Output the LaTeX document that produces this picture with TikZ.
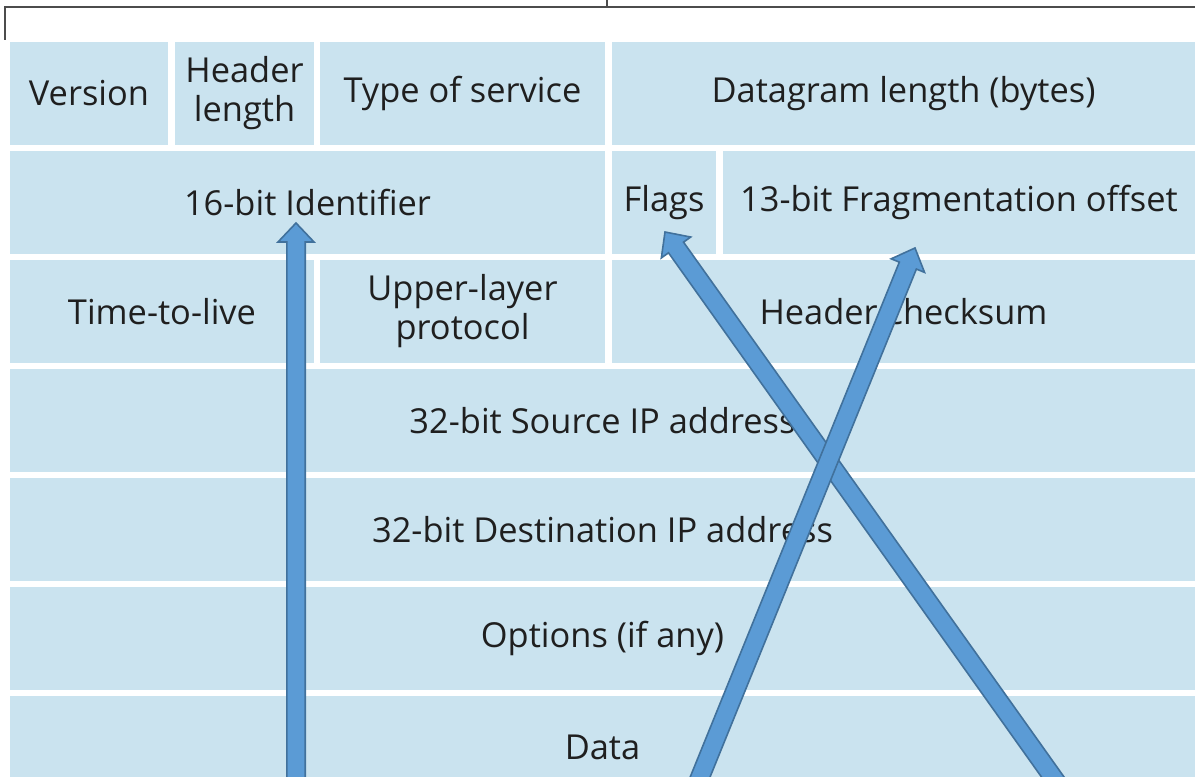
\documentclass[tikz,border=0pt]{standalone}
\usepackage{fontspec}
\setmainfont{Open Sans}
\usetikzlibrary{positioning, calc}

\definecolor{fieldblue}{RGB}{202,227,239}
\definecolor{arrowfill}{RGB}{91,155,213}
\definecolor{arrowedge}{RGB}{65,113,156}

% block arrow from foot (#1) to tip (#2)
\newcommand{\fatarrow}[2]{%
  \coordinate (neck) at ($(#2)!9.5pt!(#1)$);
  \draw[blockArrow] ($(#1)!4.6pt!90:(#2)$) -- ($(neck)!4.6pt!-90:(#1)$)
    -- ($(neck)!9pt!-90:(#1)$) -- (#2) -- ($(neck)!9pt!90:(#1)$)
    -- ($(neck)!4.6pt!90:(#1)$) -- ($(#1)!4.6pt!-90:(#2)$) -- cycle;
}

\begin{document}
\begin{tikzpicture}[
    x=0.5pt, y=0.5pt,
    % Field Style
    field/.style={
        rectangle, fill=fieldblue, inner sep=0pt, outer sep=0pt,
        minimum height=51.5pt, align=center, text=black!88,
        font=\fontsize{17.2}{19.5}\selectfont
    },
    wideField/.style={field, minimum width=592.5pt},
    % Frame Style
    frameLine/.style={draw=black!70, line width=1pt},
    % Arrow Style
    blockArrow/.style={fill=arrowfill, draw=arrowedge, line width=0.8pt, line join=miter}
]
    \useasboundingbox (0,0) rectangle (1195,777);
    \clip (0,0) rectangle (1195,777);

    % --- FRAME ---
    \draw[frameLine] (5,737) -- (5,770) -- (1200,770);
    \draw[frameLine] (607,770) -- (607,780);

    % --- ROW 1 ---
    \node[field, minimum width=79pt, anchor=north west] (ver) at (10,735) {Version};
    \node[field, minimum width=69.5pt, right=3.5pt of ver] (hlen) {Header\\length};
    \node[field, minimum width=142.5pt, right=3pt of hlen] (tos) {Type of service};
    \node[field, minimum width=291.5pt, right=3.5pt of tos] (dlen) {Datagram length (bytes)};

    % --- ROW 2 ---
    \node[field, minimum width=297.5pt, below right=3pt and 0pt of ver.south west] (ident) {16-bit Identifier};
    \node[field, minimum width=52pt, right=3.5pt of ident] (flags) {Flags};
    \node[field, minimum width=236pt, right=3.5pt of flags] (fragoff) {13-bit Fragmentation offset};

    % --- ROW 3 ---
    \node[field, minimum width=152pt, below right=3pt and 0pt of ident.south west] (ttl) {Time-to-live};
    \node[field, minimum width=142.5pt, right=3pt of ttl] (proto) {Upper-layer\\protocol};
    \node[field, minimum width=291.5pt, right=3.5pt of proto] (csum) {Header checksum};

    % --- FULL ROWS ---
    \node[wideField, below right=3pt and 0pt of ttl.south west] (srcip) {32-bit Source IP address};
    \node[wideField, below right=3pt and 0pt of srcip.south west] (dstip) {32-bit Destination IP address};
    \node[wideField, below right=3pt and 0pt of dstip.south west] (opts) {Options (if any)};
    \node[wideField, below right=3pt and 0pt of opts.south west] (data) {Data};

    % --- ARROWS ---
    \coordinate (idtip) at ([xshift=-5.75pt, yshift=15.5pt]ident.south);
    \coordinate (flagtip) at ([xshift=0.5pt, yshift=11pt]flags.south);
    \coordinate (fragtip) at ([xshift=96pt, yshift=3pt]fragoff.south west);
    \coordinate (idfoot) at (296,-20);
    \coordinate (flagfoot) at (1067,-20);
    \coordinate (fragfoot) at (692,-20);

    \fatarrow{idfoot}{idtip}
    \fatarrow{flagfoot}{flagtip}
    \fatarrow{fragfoot}{fragtip}

\end{tikzpicture}
\end{document}
